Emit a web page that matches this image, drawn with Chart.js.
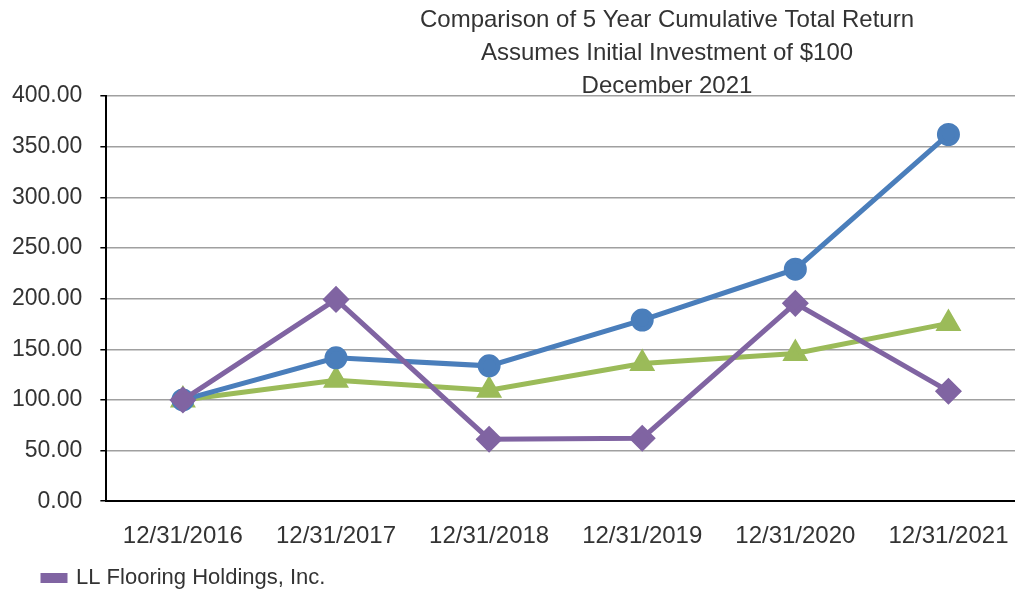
<!DOCTYPE html>
<html>
<head>
<meta charset="utf-8">
<script src="https://cdn.jsdelivr.net/npm/chart.js@4/dist/chart.umd.min.js"></script>
<style>
  html, body { margin: 0; padding: 0; background: #fff; overflow: hidden; }
  #wrap { width: 1040px; height: 594px; position: relative; }
</style>
</head>
<body>
<div id="wrap"><canvas id="chart"></canvas></div>
<script>
const years = ['12/31/2016', '12/31/2017', '12/31/2018', '12/31/2019', '12/31/2020', '12/31/2021'];
const llFlooring = [100, 199.2, 61.2, 62.2, 195.3, 108.6];
const indexBlue = [100, 141.5, 133.6, 178.8, 229, 362];
const indexGreen = [100, 119.5, 109.6, 136, 145.9, 175.5];
const titleLines = ['Comparison of 5 Year Cumulative Total Return', 'Assumes Initial Investment of $100', 'December 2021'];

const FONT = 'Liberation Sans, Arial, sans-serif';

// titre dessine a la main, decale vers la droite comme dans l'original
const titlePlugin = {
    id: 'titleLines',
    afterLayout(chart) {
        // la legende commence plus a droite que les etiquettes de l'axe
        chart.legend.left += 43;
    },
    afterDraw(chart) {
        const ctx = chart.ctx;
        ctx.save();
        ctx.font = '24px ' + FONT;
        ctx.fillStyle = '#333';
        ctx.textAlign = 'center';
        ctx.textBaseline = 'middle';
        titleLines.forEach((t, i) => ctx.fillText(t, 667, 20 + i * 33));
        ctx.restore();
    }
};

const ctx = document.getElementById('chart').getContext('2d');
new Chart(ctx, {
    type: 'line',
    data: {
        labels: years,
        datasets: [{
            label: 'LL Flooring Holdings, Inc.',
            data: llFlooring,
            borderColor: '#8064a2',
            backgroundColor: '#8064a2',
            borderWidth: 5,
            pointStyle: 'rectRot',
            pointRadius: 10,
            order: 1
        }, {
            label: 'Index 1',
            data: indexBlue,
            borderColor: '#4a7ebb',
            backgroundColor: '#4a7ebb',
            borderWidth: 5,
            pointStyle: 'circle',
            pointRadius: 9,
            order: 2
        }, {
            label: 'Index 2',
            data: indexGreen,
            borderColor: '#9bbb59',
            backgroundColor: '#9bbb59',
            borderWidth: 5,
            pointStyle: 'triangle',
            pointRadius: 10,
            order: 3
        }]
    },
    options: {
        responsive: true,
        maintainAspectRatio: false,
        animation: false,
        layout: { padding: { top: 96, left: -6, right: 0, bottom: -5 } },
        scales: {
            x: {
                offset: true,
                grid: { display: false, tickLength: 11 },
                border: { color: '#000', width: 2 },
                ticks: { font: { family: FONT, size: 24 }, color: '#333', padding: 10, maxRotation: 0, autoSkip: false }
            },
            y: {
                min: 0,
                max: 400,
                ticks: {
                    stepSize: 50,
                    font: { family: FONT, size: 23 },
                    color: '#333',
                    padding: 18,
                    callback: v => v.toFixed(2)
                },
                grid: { color: '#a0a0a0', lineWidth: 1.5, tickLength: 6, tickColor: '#000' },
                border: { color: '#000', width: 2 }
            }
        },
        plugins: {
            title: { display: false },
            tooltip: { enabled: false },
            legend: {
                position: 'bottom',
                align: 'start',
                labels: {
                    filter: item => item.datasetIndex === 0,
                    boxWidth: 22,
                    boxHeight: 5,
                    padding: 6,
                    font: { family: FONT, size: 22 },
                    color: '#333'
                }
            }
        }
    },
    plugins: [titlePlugin]
});
</script>
</body>
</html>
